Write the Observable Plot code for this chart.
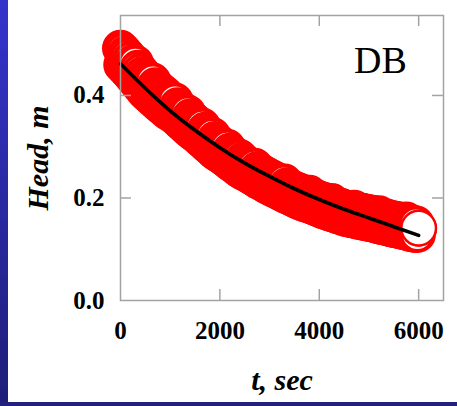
<!DOCTYPE html>
<html>
<head>
<meta charset="utf-8">
<script src="https://cdn.jsdelivr.net/npm/d3@7"></script>
<script src="https://cdn.jsdelivr.net/npm/@observablehq/plot@0.6"></script>
<style>
  html, body { margin: 0; padding: 0; background: #ffffff; }
  #page { position: relative; width: 457px; height: 406px; overflow: hidden; background: #ffffff; }
  #leftbar { position: absolute; left: 0; top: 0; width: 8px; height: 406px;
             background: linear-gradient(to bottom, #3434cc, #1e1e78); }
  #bottombar { position: absolute; left: 0; top: 402px; width: 457px; height: 4px; background: #22227e; }
  #chart { position: absolute; left: 8px; top: 0; }
</style>
</head>
<body>
<div id="page">
  <div id="leftbar"></div>
  <div id="bottombar"></div>
  <div id="chart"></div>
</div>
<script>
// Measured data (time in seconds, head in metres)
const timeSec = [
  0, 25, 50, 75, 100, 125, 150, 175, 200, 225, 250, 275, 300, 325, 350, 375, 400, 425, 450, 475,
  500, 525, 550, 575, 600, 625, 650, 675, 700, 725, 750, 775, 800, 825, 850, 875, 900, 925, 950, 975,
  1000, 1025, 1050, 1075, 1100, 1125, 1150, 1175, 1200, 1225, 1250, 1275, 1300, 1325, 1350, 1375, 1400, 1425, 1450, 1475,
  1500, 1525, 1550, 1575, 1600, 1625, 1650, 1675, 1700, 1725, 1750, 1775, 1800, 1825, 1850, 1875, 1900, 1925, 1950, 1975,
  2000, 2025, 2050, 2075, 2100, 2125, 2150, 2175, 2200, 2225, 2250, 2275, 2300, 2325, 2350, 2375, 2400, 2425, 2450, 2475,
  2500, 2525, 2550, 2575, 2600, 2625, 2650, 2675, 2700, 2725, 2750, 2775, 2800, 2825, 2850, 2875, 2900, 2925, 2950, 2975,
  3000, 3025, 3050, 3075, 3100, 3125, 3150, 3175, 3200, 3225, 3250, 3275, 3300, 3325, 3350, 3375, 3400, 3425, 3450, 3475,
  3500, 3525, 3550, 3575, 3600, 3625, 3650, 3675, 3700, 3725, 3750, 3775, 3800, 3825, 3850, 3875, 3900, 3925, 3950, 3975,
  4000, 4025, 4050, 4075, 4100, 4125, 4150, 4175, 4200, 4225, 4250, 4275, 4300, 4325, 4350, 4375, 4400, 4425, 4450, 4475,
  4500, 4525, 4550, 4575, 4600, 4625, 4650, 4675, 4700, 4725, 4750, 4775, 4800, 4825, 4850, 4875, 4900, 4925, 4950, 4975,
  5000, 5025, 5050, 5075, 5100, 5125, 5150, 5175, 5200, 5225, 5250, 5275, 5300, 5325, 5350, 5375, 5400, 5425, 5450, 5475,
  5500, 5525, 5550, 5575, 5600, 5625, 5650, 5675, 5700, 5725, 5750, 5775, 5800, 5825, 5850, 5875, 5900, 5925, 5950, 5975,
  6000
];
const headM = [
  0.492, 0.460, 0.487, 0.455, 0.481, 0.450, 0.476, 0.445, 0.470, 0.439, 0.464, 0.433, 0.463, 0.427, 0.453, 0.421, 0.447, 0.415, 0.441, 0.409,
  0.436, 0.404, 0.432, 0.400, 0.427, 0.395, 0.428, 0.391, 0.419, 0.387, 0.414, 0.382, 0.410, 0.378, 0.406, 0.374, 0.402, 0.370, 0.397, 0.366,
  0.393, 0.365, 0.389, 0.360, 0.389, 0.356, 0.380, 0.352, 0.375, 0.347, 0.371, 0.343, 0.367, 0.338, 0.366, 0.334, 0.358, 0.330, 0.353, 0.326,
  0.349, 0.323, 0.345, 0.318, 0.340, 0.314, 0.340, 0.310, 0.332, 0.305, 0.327, 0.301, 0.323, 0.297, 0.322, 0.292, 0.314, 0.288, 0.310, 0.285,
  0.306, 0.282, 0.302, 0.278, 0.299, 0.275, 0.299, 0.271, 0.291, 0.267, 0.287, 0.264, 0.284, 0.260, 0.280, 0.256, 0.279, 0.253, 0.273, 0.250,
  0.269, 0.248, 0.266, 0.245, 0.263, 0.242, 0.261, 0.239, 0.262, 0.236, 0.255, 0.233, 0.252, 0.231, 0.249, 0.228, 0.247, 0.225, 0.244, 0.222,
  0.241, 0.220, 0.239, 0.217, 0.236, 0.215, 0.234, 0.213, 0.231, 0.210, 0.229, 0.208, 0.231, 0.205, 0.224, 0.203, 0.222, 0.201, 0.219, 0.198,
  0.217, 0.196, 0.215, 0.194, 0.213, 0.192, 0.211, 0.190, 0.209, 0.188, 0.208, 0.187, 0.209, 0.185, 0.204, 0.183, 0.202, 0.181, 0.200, 0.179,
  0.198, 0.177, 0.196, 0.175, 0.195, 0.174, 0.193, 0.172, 0.191, 0.170, 0.193, 0.169, 0.188, 0.167, 0.186, 0.165, 0.185, 0.164, 0.183, 0.162,
  0.181, 0.160, 0.180, 0.159, 0.179, 0.158, 0.178, 0.157, 0.180, 0.156, 0.176, 0.155, 0.175, 0.154, 0.174, 0.153, 0.173, 0.152, 0.172, 0.151,
  0.171, 0.150, 0.170, 0.149, 0.169, 0.148, 0.167, 0.146, 0.169, 0.145, 0.165, 0.144, 0.164, 0.143, 0.163, 0.142, 0.161, 0.140, 0.160, 0.139,
  0.159, 0.138, 0.158, 0.137, 0.157, 0.136, 0.156, 0.135, 0.155, 0.134, 0.157, 0.133, 0.152, 0.131, 0.151, 0.130, 0.150, 0.129, 0.149, 0.129,
  0.141
];

// Fitted curve
const fitTime = [0, 500, 1000, 1500, 2000, 2500, 3000, 3500, 4000, 4500, 5000, 5500, 6000];
const fitHead = [0.462, 0.414, 0.370, 0.332, 0.298, 0.268, 0.242, 0.218, 0.197, 0.178, 0.161, 0.144, 0.127];

// Axis ticks and labels
const xTicks = [0, 2000, 4000, 6000];
const yTicks = [0.0, 0.2, 0.4];
const xDomain = [0, 6500];
const yDomain = [0, 0.556];
const xLabel = "t, sec";
const yLabel = "Head, m";
const panelLabel = "DB";

const points = timeSec.map((t, i) => ({t, h: headM[i]}));
const lastPoint = points.slice(-1);
const fit = fitTime.map((t, i) => ({t, h: fitHead[i]}));

const W = 449, H = 402;
const mL = 112, mR = 14, mT = 15, mB = 102;
const innerW = W - mL - mR, innerH = H - mT - mB;
const tickLen = 11;
const frameColor = "#a3a3a3";
const serif = "'Liberation Serif', 'Times New Roman', Times, serif";

const chart = Plot.plot({
  width: W,
  height: H,
  marginLeft: mL,
  marginRight: mR,
  marginTop: mT,
  marginBottom: mB,
  style: {background: "#ffffff", color: "#000000", fontFamily: serif},
  x: {domain: xDomain},
  y: {domain: yDomain},
  marks: [
    Plot.dot(points, {x: "t", y: "h", r: 16.5, stroke: "#ff0000", strokeWidth: 4, fill: "#ffffff"}),
    Plot.dot(lastPoint, {x: "t", y: "h", r: 17.3, stroke: "#ff0000", strokeWidth: 2.4, fill: "#ffffff"}),
    Plot.line(fit, {x: "t", y: "h", stroke: "#000000", strokeWidth: 3.6, curve: "natural", strokeLinecap: "round"}),
    Plot.frame({stroke: frameColor, strokeWidth: 1.5}),
    Plot.ruleX(xTicks.filter(d => d > 0), {stroke: frameColor, strokeWidth: 1.5, insetTop: innerH - tickLen}),
    Plot.ruleX(xTicks.filter(d => d > 0), {stroke: frameColor, strokeWidth: 1.5, insetBottom: innerH - tickLen}),
    Plot.ruleY(yTicks.filter(d => d > 0), {stroke: frameColor, strokeWidth: 1.5, insetRight: innerW - tickLen}),
    Plot.ruleY(yTicks.filter(d => d > 0), {stroke: frameColor, strokeWidth: 1.5, insetLeft: innerW - tickLen}),
    Plot.axisX({ticks: xTicks, tickSize: 0, tickPadding: 21, tickFormat: d3.format("d"),
                fontSize: 25, fontWeight: "bold", label: null}),
    Plot.axisY({ticks: yTicks, tickSize: 0, tickPadding: 16, tickFormat: d3.format(".1f"),
                fontSize: 25, fontWeight: "bold", label: null}),
    Plot.text([yLabel], {frameAnchor: "left", dx: -82, rotate: -90, fontSize: 30,
                textAnchor: "middle", lineAnchor: "middle",
                fontWeight: "bold", fontStyle: "italic", fill: "#000000"}),
    Plot.text([xLabel], {frameAnchor: "bottom", dy: 80, fontSize: 30,
                textAnchor: "middle", lineAnchor: "middle",
                fontWeight: "bold", fontStyle: "italic", fill: "#000000"}),
    Plot.text([panelLabel], {frameAnchor: "top-right", dx: -63, dy: 45, fontSize: 38,
                textAnchor: "middle", lineAnchor: "middle", fill: "#000000"})
  ]
});
document.getElementById("chart").appendChild(chart);
</script>
</body>
</html>
